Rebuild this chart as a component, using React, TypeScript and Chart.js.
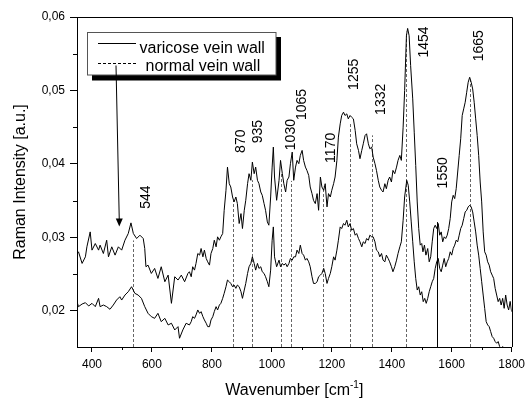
import { useEffect, useRef } from 'react';
import { Chart, registerables } from 'chart.js';

Chart.register(...registerables);

const varicoseWn = [
  350, 355, 367, 378, 383, 394, 400, 411, 422, 427, 438, 449, 455, 466, 477, 488, 499, 510, 521, 530,
  538, 549, 560, 571, 576, 580, 587, 598, 609, 620, 631, 643, 654, 665, 676, 687, 698, 709, 720, 725,
  731, 736, 742, 747, 753, 759, 764, 770, 775, 781, 786, 792, 797, 803, 808, 814, 819, 825, 830, 836,
  841, 847, 852, 858, 863, 869, 874, 880, 885, 891, 897, 902, 908, 913, 919, 924, 930, 935, 941, 946,
  952, 957, 963, 968, 974, 979, 985, 990, 996, 1001, 1005, 1009, 1016, 1024, 1029, 1035, 1040, 1046, 1051, 1057,
  1062, 1068, 1073, 1079, 1084, 1090, 1095, 1101, 1106, 1112, 1117, 1123, 1128, 1134, 1139, 1145, 1151, 1156, 1162, 1167,
  1173, 1178, 1184, 1189, 1195, 1200, 1206, 1211, 1217, 1222, 1228, 1233, 1239, 1244, 1250, 1255, 1261, 1266, 1272, 1278,
  1283, 1289, 1294, 1300, 1305, 1311, 1316, 1322, 1327, 1333, 1338, 1344, 1349, 1355, 1360, 1366, 1371, 1377, 1382, 1388,
  1393, 1399, 1404, 1410, 1416, 1421, 1427, 1432, 1438, 1443, 1449, 1453, 1458, 1463, 1470, 1475, 1480, 1485, 1490, 1495,
  1500, 1504, 1509, 1514, 1520, 1525, 1530, 1535, 1540, 1545, 1550, 1555, 1560, 1565, 1570, 1575, 1580, 1585, 1590, 1595,
  1600, 1605, 1610, 1615, 1620, 1625, 1630, 1635, 1640, 1645, 1650, 1655, 1660, 1665, 1670, 1675, 1680, 1685, 1690, 1695,
  1700, 1705, 1710, 1715, 1720, 1725, 1730, 1735, 1740, 1745, 1750, 1755, 1760, 1765, 1770, 1775, 1780, 1785, 1790, 1795,
  1800,
];
const varicoseInt = [
  0.02782, 0.02805, 0.02647, 0.02737, 0.02873, 0.03076, 0.02828, 0.02918, 0.02828, 0.02896, 0.02782, 0.02963, 0.02737, 0.02873, 0.0276, 0.02873, 0.02828, 0.02963, 0.03054, 0.03199,
  0.03054, 0.02986, 0.03031, 0.02986, 0.0285, 0.02602, 0.02624, 0.02511, 0.02579, 0.02443, 0.02602, 0.02398, 0.02488, 0.02104, 0.02466, 0.02421, 0.02488, 0.02398, 0.02511, 0.02534,
  0.02466, 0.02602, 0.02556, 0.02647, 0.02782, 0.0276, 0.0285, 0.02737, 0.02828, 0.02715, 0.02669, 0.02624, 0.02782, 0.0285, 0.02963, 0.02873, 0.03009, 0.02963, 0.03009, 0.03054,
  0.0337, 0.03642, 0.03958, 0.03732, 0.03687, 0.03551, 0.03484, 0.03551, 0.03461, 0.0319, 0.03325, 0.03122, 0.0337, 0.03506, 0.03732, 0.03868, 0.03778, 0.04026, 0.03868, 0.03958,
  0.03778, 0.03732, 0.03619, 0.03574, 0.03461, 0.0337, 0.03212, 0.03167, 0.03551, 0.03958, 0.0423, 0.03823, 0.03506, 0.03778, 0.04049, 0.03868, 0.03732, 0.03619, 0.03778, 0.03823,
  0.04004, 0.04162, 0.03778, 0.03958, 0.04049, 0.04004, 0.04117, 0.04185, 0.04049, 0.03958, 0.03913, 0.03845, 0.03687, 0.03597, 0.03506, 0.03461, 0.03597, 0.0337, 0.03823, 0.03687,
  0.03642, 0.03732, 0.03416, 0.03597, 0.03551, 0.03642, 0.03732, 0.03823, 0.04049, 0.04366, 0.04546, 0.0466, 0.04705, 0.0466, 0.04682, 0.04614, 0.0466, 0.04637, 0.04614, 0.04456,
  0.04275, 0.04185, 0.04072, 0.04185, 0.04275, 0.04388, 0.04411, 0.04275, 0.04207, 0.0423, 0.04094, 0.04004, 0.03913, 0.03778, 0.03687, 0.03642, 0.03619, 0.03732, 0.03664, 0.03778,
  0.03823, 0.03755, 0.03913, 0.03868, 0.03958, 0.04049, 0.04117, 0.04049, 0.04501, 0.04999, 0.05745, 0.05845, 0.05745, 0.05338, 0.04886, 0.04433, 0.0398, 0.03483, 0.03122, 0.02896,
  0.02918, 0.02805, 0.02896, 0.0276, 0.0285, 0.02669, 0.02737, 0.02941, 0.03122, 0.03167, 0.03122, 0.0319, 0.03031, 0.03076, 0.02941, 0.03009, 0.02986, 0.03031, 0.03122, 0.03257,
  0.03484, 0.03574, 0.03529, 0.03664, 0.03891, 0.04117, 0.04343, 0.0466, 0.0475, 0.0484, 0.04976, 0.05112, 0.0518, 0.05112, 0.05021, 0.0484, 0.04614, 0.04388, 0.04117, 0.03755,
  0.03484, 0.03076, 0.02805, 0.0276, 0.02669, 0.02624, 0.02534, 0.02488, 0.02443, 0.02308, 0.02217, 0.02127, 0.02172, 0.02081, 0.02172, 0.02036, 0.02217, 0.02081, 0.02014, 0.0213,
  0.0199,
];

const normalWn = [
  350, 355, 367, 378, 389, 400, 411, 422, 427, 438, 449, 460, 471, 482, 493, 499, 510, 521, 532, 543,
  554, 565, 576, 587, 598, 609, 620, 631, 643, 654, 665, 676, 687, 692, 703, 714, 725, 731, 736, 742,
  747, 753, 759, 764, 770, 775, 781, 786, 792, 797, 803, 808, 814, 819, 825, 830, 836, 841, 847, 852,
  858, 863, 869, 874, 880, 885, 891, 897, 902, 908, 913, 919, 924, 930, 935, 941, 946, 952, 957, 963,
  968, 974, 979, 985, 990, 996, 1001, 1005, 1009, 1016, 1024, 1029, 1035, 1040, 1046, 1051, 1057, 1062, 1068, 1073,
  1079, 1084, 1090, 1095, 1101, 1106, 1112, 1117, 1123, 1128, 1134, 1139, 1145, 1151, 1156, 1162, 1167, 1173, 1178, 1184,
  1189, 1195, 1200, 1206, 1211, 1217, 1222, 1228, 1233, 1239, 1244, 1250, 1255, 1261, 1266, 1272, 1278, 1283, 1289, 1294,
  1300, 1305, 1311, 1316, 1322, 1327, 1333, 1338, 1344, 1349, 1355, 1360, 1366, 1371, 1377, 1382, 1388, 1393, 1399, 1404,
  1410, 1416, 1421, 1427, 1432, 1438, 1443, 1450, 1455, 1460, 1465, 1470, 1475, 1480, 1485, 1490, 1495, 1500, 1505, 1510,
  1515, 1520, 1525, 1530, 1535, 1540, 1545, 1550, 1555, 1560, 1565, 1570, 1575, 1580, 1585, 1590, 1595, 1600, 1605, 1610,
  1615, 1620, 1625, 1630, 1635, 1640, 1645, 1650, 1655, 1660, 1665, 1670, 1675, 1680, 1685, 1690, 1695, 1700, 1705, 1710,
  1715, 1720, 1725, 1730, 1735, 1740, 1745, 1750, 1755, 1760, 1765, 1770, 1775, 1780,
];
const normalInt = [
  0.02127, 0.02059, 0.02095, 0.02113, 0.02068, 0.02104, 0.02059, 0.02172, 0.02059, 0.02081, 0.02059, 0.02023, 0.02081, 0.02149, 0.02194, 0.02149, 0.02217, 0.02262, 0.0233, 0.0224,
  0.02217, 0.02172, 0.02059, 0.01968, 0.01923, 0.019, 0.01968, 0.01855, 0.019, 0.0181, 0.01833, 0.01742, 0.01787, 0.01629, 0.01742, 0.01833, 0.0181, 0.01855, 0.01923, 0.019,
  0.01946, 0.02014, 0.01968, 0.01991, 0.01923, 0.01878, 0.01833, 0.01787, 0.01787, 0.01878, 0.01923, 0.01991, 0.02059, 0.02014, 0.02081, 0.02104, 0.02172, 0.0224, 0.0233, 0.02421,
  0.02398, 0.02375, 0.0233, 0.02353, 0.02308, 0.02353, 0.0233, 0.02262, 0.02172, 0.02285, 0.02375, 0.02511, 0.02602, 0.02647, 0.02737, 0.02647, 0.02556, 0.02647, 0.02579, 0.02602,
  0.02534, 0.02511, 0.02466, 0.02398, 0.0233, 0.02556, 0.02963, 0.03144, 0.02737, 0.02602, 0.02692, 0.02602, 0.02647, 0.02624, 0.02647, 0.02602, 0.02647, 0.02715, 0.02692, 0.02737,
  0.02737, 0.02828, 0.02782, 0.02896, 0.02782, 0.0276, 0.02692, 0.02715, 0.02669, 0.02602, 0.02466, 0.02375, 0.02375, 0.02398, 0.02466, 0.02488, 0.02511, 0.02579, 0.02511, 0.02375,
  0.02443, 0.02511, 0.02602, 0.02737, 0.02692, 0.02828, 0.02963, 0.03144, 0.03122, 0.0319, 0.03167, 0.03235, 0.03144, 0.0319, 0.03099, 0.03122, 0.03031, 0.03054, 0.02986, 0.02941,
  0.02873, 0.02941, 0.02918, 0.02986, 0.02963, 0.03031, 0.03009, 0.03009, 0.02941, 0.02828, 0.02805, 0.02737, 0.02782, 0.02692, 0.02669, 0.0276, 0.02715, 0.02669, 0.02602, 0.02534,
  0.02602, 0.02692, 0.02782, 0.02873, 0.02941, 0.03235, 0.03551, 0.03778, 0.0371, 0.03484, 0.03212, 0.02941, 0.02669, 0.02443, 0.02285, 0.0233, 0.02217, 0.02262, 0.02127, 0.02172,
  0.02104, 0.02172, 0.02262, 0.0233, 0.02398, 0.02443, 0.02579, 0.02669, 0.02715, 0.02579, 0.02534, 0.02624, 0.02715, 0.02602, 0.02669, 0.02715, 0.02805, 0.0276, 0.0285, 0.02896,
  0.02963, 0.02941, 0.03031, 0.03122, 0.03167, 0.03257, 0.03348, 0.0337, 0.03416, 0.03438, 0.03416, 0.03348, 0.03212, 0.03076, 0.02896, 0.0276, 0.02579, 0.02398, 0.02217, 0.02036,
  0.01855, 0.0181, 0.01787, 0.0172, 0.01652, 0.01629, 0.01584, 0.01561, 0.01584, 0.01516, 0.01493, 0.01516, 0.01471, 0.0145,
];

const legendLabels = ['varicose vein wall', 'normal vein wall'];
const xTickValues = [400, 600, 800, 1000, 1200, 1400, 1600, 1800];
const xMinorTicks = [500, 700, 900, 1100, 1300, 1500, 1700];
const yTickValues = [0.02, 0.03, 0.04, 0.05, 0.06];
const yMinorTicks = [0.025, 0.035, 0.045, 0.055];

const peakLabels = ['544', '870', '935', '1030', '1065', '1170', '1255', '1332', '1454', '1550', '1665'];
const peakLabelWn = [580, 899, 954, 1065, 1101, 1197, 1275, 1363, 1507, 1570, 1691];
const peakLabelInt = [0.0355, 0.0431, 0.0444, 0.044, 0.0481, 0.0422, 0.0522, 0.0488, 0.0566, 0.0388, 0.0561];

const peakLineWn = [537, 872, 935, 1029, 1064, 1169, 1261, 1333, 1449, 1660];
const peakLineTop = [0.0296, 0.035, 0.0378, 0.0387, 0.0377, 0.0369, 0.0455, 0.0439, 0.058, 0.0514];
const markerLineWn = [1551];
const markerLineTop = [0.0321];

const arrowTipWn = 491;
const arrowTipInt = 0.0315;

const FONT = "'Liberation Sans', Arial, Helvetica, sans-serif";

const decor = {
  id: 'decor',
  beforeDatasetsDraw(chart: any) {
    const { ctx, chartArea: a, scales } = chart;
    const x = scales.x;
    const y = scales.y;
    ctx.save();
    ctx.beginPath();
    ctx.rect(a.left, a.top, a.right - a.left, a.bottom - a.top);
    ctx.clip();
    ctx.lineWidth = 1;
    ctx.strokeStyle = '#666';
    ctx.setLineDash([3, 2]);
    peakLineWn.forEach((w, i) => {
      const px = Math.round(x.getPixelForValue(w)) + 0.5;
      ctx.beginPath();
      ctx.moveTo(px, a.bottom);
      ctx.lineTo(px, y.getPixelForValue(peakLineTop[i]));
      ctx.stroke();
    });
    ctx.setLineDash([]);
    ctx.strokeStyle = '#000';
    markerLineWn.forEach((w, i) => {
      const px = Math.round(x.getPixelForValue(w)) + 0.5;
      ctx.beginPath();
      ctx.moveTo(px, a.bottom);
      ctx.lineTo(px, y.getPixelForValue(markerLineTop[i]));
      ctx.stroke();
    });
    ctx.restore();
  },
  afterDraw(chart: any) {
    const { ctx, chartArea: a, scales } = chart;
    const x = scales.x;
    const y = scales.y;
    ctx.save();
    ctx.strokeStyle = '#000';
    ctx.lineWidth = 1;
    // frame top & right
    const top = Math.round(a.top) + 0.5;
    const right = Math.round(a.right) + 0.5;
    ctx.beginPath();
    ctx.moveTo(a.left, top);
    ctx.lineTo(right, top);
    ctx.lineTo(right, a.bottom);
    ctx.stroke();
    // minor ticks
    xMinorTicks.forEach((v) => {
      const px = Math.round(x.getPixelForValue(v)) + 0.5;
      ctx.beginPath();
      ctx.moveTo(px, a.bottom);
      ctx.lineTo(px, a.bottom + 3);
      ctx.stroke();
    });
    yMinorTicks.forEach((v) => {
      const py = Math.round(y.getPixelForValue(v)) + 0.5;
      ctx.beginPath();
      ctx.moveTo(a.left - 4, py);
      ctx.lineTo(a.left, py);
      ctx.stroke();
    });

    // peak labels
    ctx.fillStyle = '#000';
    ctx.font = `14px ${FONT}`;
    ctx.textAlign = 'center';
    ctx.textBaseline = 'middle';
    peakLabels.forEach((t, i) => {
      ctx.save();
      ctx.translate(x.getPixelForValue(peakLabelWn[i]), y.getPixelForValue(peakLabelInt[i]));
      ctx.rotate(-Math.PI / 2);
      ctx.fillText(t, 0, 0);
      ctx.restore();
    });

    // legend
    const lx = a.left + 10.5;
    const ly = a.top + 15.5;
    const lw = 188.5;
    const lh = 42.5;
    ctx.fillStyle = '#000';
    ctx.fillRect(lx + 4.5, ly + 4.5, lw + 0.5, lh + 1);
    ctx.fillStyle = '#fff';
    ctx.fillRect(lx, ly, lw, lh);
    ctx.strokeStyle = '#555';
    ctx.strokeRect(lx, ly, lw, lh);
    ctx.strokeStyle = '#000';
    ctx.beginPath();
    ctx.moveTo(lx + 10.5, ly + 11);
    ctx.lineTo(lx + 48.5, ly + 11);
    ctx.stroke();
    ctx.setLineDash([3, 2]);
    ctx.beginPath();
    ctx.moveTo(lx + 10.5, ly + 31);
    ctx.lineTo(lx + 49.5, ly + 31);
    ctx.stroke();
    ctx.setLineDash([]);
    ctx.fillStyle = '#000';
    ctx.font = `16px ${FONT}`;
    ctx.textAlign = 'left';
    ctx.textBaseline = 'alphabetic';
    ctx.fillText(legendLabels[0], lx + 52, ly + 20);
    ctx.fillText(legendLabels[1], lx + 58, ly + 38);

    // arrow from legend to spectrum
    const sx = lx + 28.5;
    const sy = ly + 33;
    const tx = x.getPixelForValue(arrowTipWn);
    const ty = y.getPixelForValue(arrowTipInt);
    ctx.beginPath();
    ctx.moveTo(sx, sy);
    ctx.lineTo(tx, ty - 6);
    ctx.stroke();
    ctx.beginPath();
    ctx.moveTo(tx, ty);
    ctx.lineTo(tx - 3.5, ty - 8);
    ctx.lineTo(tx + 3.5, ty - 8);
    ctx.closePath();
    ctx.fill();

    // axis titles
    ctx.font = `16px ${FONT}`;
    ctx.save();
    ctx.translate(24.5, (a.top + a.bottom) / 2);
    ctx.rotate(-Math.PI / 2);
    ctx.textAlign = 'center';
    ctx.fillText('Raman Intensity [a.u.]', 0, 0);
    ctx.restore();

    const p1 = 'Wavenumber [cm';
    const sup = '-1';
    const p2 = ']';
    ctx.font = `16px ${FONT}`;
    const w1 = ctx.measureText(p1).width;
    const w3 = ctx.measureText(p2).width;
    ctx.font = `10px ${FONT}`;
    const w2 = ctx.measureText(sup).width;
    const total = w1 + w2 + w3;
    const cx = (a.left + a.right) / 2;
    const bx = cx - total / 2;
    const base = 395;
    ctx.textAlign = 'left';
    ctx.font = `16px ${FONT}`;
    ctx.fillText(p1, bx, base);
    ctx.font = `10px ${FONT}`;
    ctx.fillText(sup, bx + w1, base - 7);
    ctx.font = `16px ${FONT}`;
    ctx.fillText(p2, bx + w1 + w2, base);
    ctx.restore();
  },
};

export default function App() {
  const ref = useRef<HTMLCanvasElement | null>(null);
  useEffect(() => {
    if (!ref.current) return;
    Chart.defaults.font.family = FONT;
    const chart = new Chart(ref.current, {
      type: 'line',
      data: {
        datasets: [
          {
            label: legendLabels[0],
            data: varicoseWn.map((w, i) => ({ x: w, y: varicoseInt[i] })),
            borderColor: '#000',
            borderWidth: 1,
            pointRadius: 0,
            tension: 0,
            fill: false,
          },
          {
            label: legendLabels[1],
            data: normalWn.map((w, i) => ({ x: w, y: normalInt[i] })),
            borderColor: '#000',
            borderWidth: 1,
            pointRadius: 0,
            tension: 0,
            fill: false,
          },
        ],
      },
      options: {
        responsive: false,
        animation: false,
        events: [],
        layout: { padding: { left: 0, top: 17, right: 16, bottom: 0 } },
        plugins: { legend: { display: false }, tooltip: { enabled: false } },
        scales: {
          x: {
            type: 'linear',
            min: 350,
            max: 1800,
            afterBuildTicks: (s: any) => {
              s.ticks = xTickValues.map((value) => ({ value }));
            },
            afterFit: (s: any) => {
              s.height = 53;
            },
            grid: { display: true, drawOnChartArea: false, drawTicks: true, tickLength: 5, color: '#000' },
            border: { display: true, color: '#000', width: 1 },
            ticks: {
              color: '#000',
              font: { size: 12 },
              padding: 5,
              maxRotation: 0,
              autoSkip: false,
              callback: (v: any) => String(v),
            },
          },
          y: {
            type: 'linear',
            min: 0.0151,
            max: 0.06,
            afterBuildTicks: (s: any) => {
              s.ticks = yTickValues.map((value) => ({ value }));
            },
            afterFit: (s: any) => {
              s.width = 77;
            },
            grid: { display: true, drawOnChartArea: false, drawTicks: true, tickLength: 7, color: '#000' },
            border: { display: true, color: '#000', width: 1 },
            ticks: {
              color: '#000',
              font: { size: 12 },
              padding: 5,
              autoSkip: false,
              callback: (v: any) => Number(v).toFixed(2).replace('.', ','),
            },
          },
        },
      },
      plugins: [decor],
    });
    return () => chart.destroy();
  }, []);
  return (
    <canvas
      ref={ref}
      width={530}
      height={400}
      style={{ position: 'absolute', left: 0, top: 0, display: 'block' }}
    />
  );
}
